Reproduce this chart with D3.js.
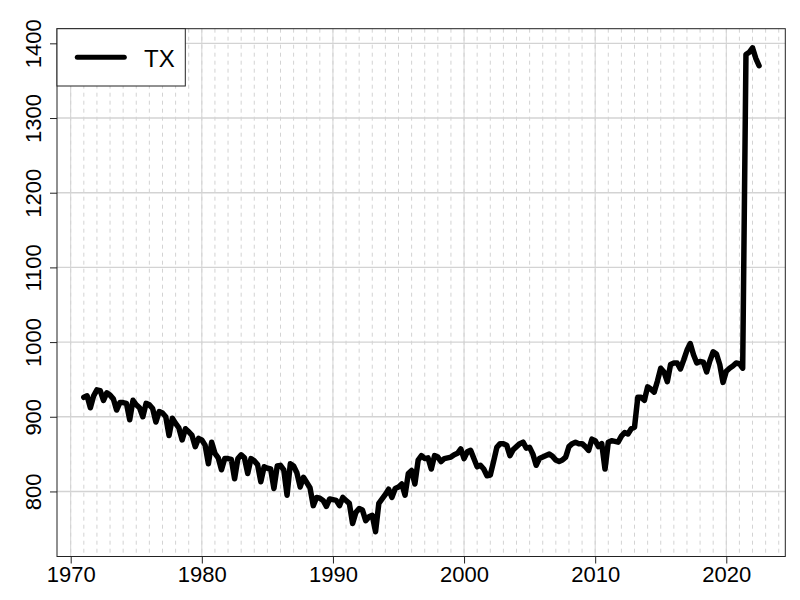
<!DOCTYPE html>
<html>
<head>
<meta charset="utf-8">
<script src="https://cdn.jsdelivr.net/npm/d3@7"></script>
<style>
  html, body { margin: 0; padding: 0; background: #fff; }
  svg { display: block; font-family: "Liberation Sans", Arial, Helvetica, sans-serif; }
</style>
</head>
<body>
<svg id="chart" width="800" height="600"></svg>
<script>
// ---- data (quarterly readings of the TX series) ----
const seriesName = "TX";
const years = d3.range(1971, 2023);
const txQ1 = [926,936,929,919,916,916,905,891,880,869,
              851,844,849,841,831,835,834,812,791,789,
              788,777,768,796,806,828,844,846,846,844,
              833,822,864,860,859,846,842,860,864,868,
              866,874,886,940,965,972,989,974,987,961,
              971,1394];
const txQ2 = [928,935,924,918,912,911,900,885,875,862,
              845,843,845,836,830,829,825,805,788,788,
              784,775,746,803,810,810,845,840,849,853,
              835,840,862,864,850,848,840,864,860,860,
              868,879,926,937,960,972,998,973,984,965,
              965,1380];
const txQ3 = [912,922,909,896,900,893,875,869,860,837,
              829,817,824,813,804,795,806,781,780,781,
              757,761,784,792,795,842,830,844,851,855,
              830,859,848,866,835,850,842,866,855,864,
              867,877,926,933,947,964,983,960,970,968,
              1385,1370];
const txQ4 = [928,932,919,922,918,907,898,884,871,866,
              844,844,844,833,834,837,819,792,790,792,
              772,766,790,804,824,848,848,845,857,844,
              821,864,856,858,844,847,846,864,870,830,
              866,884,922,948,970,976,972,975,946,972,
              1388,null];
const xTickLabels = [1970,1980,1990,2000,2010,2020];
const yTickLabels = [800,900,1000,1100,1200,1300,1400];
const gridYears = d3.range(1970, 2025);

// ---- build table ----
const quarters = [txQ1, txQ2, txQ3, txQ4];
const data = [];
years.forEach((yr, i) => {
  quarters.forEach((q, k) => {
    if (q[i] != null) data.push({t: yr + k * 0.25, v: q[i]});
  });
});

// ---- layout ----
const L = 57, R = 785.3, T = 28.7, B = 556.5;
const svg = d3.select("#chart");
const x = d3.scaleLinear().domain([1968.955, 2024.5]).range([L, R]);
const y = d3.scaleLinear().domain([712.9, 1419.6]).range([B, T]);

const grid = svg.append("g");
grid.selectAll("line.vy").data(gridYears).join("line")
  .attr("x1", d => x(d)).attr("x2", d => x(d))
  .attr("y1", T).attr("y2", B)
  .attr("stroke", "#d3d3d3").attr("stroke-width", 1)
  .attr("stroke-dasharray", "4,4");
grid.selectAll("line.vd").data(xTickLabels).join("line")
  .attr("x1", d => x(d)).attr("x2", d => x(d))
  .attr("y1", T).attr("y2", B)
  .attr("stroke", "#d3d3d3").attr("stroke-width", 1);
grid.selectAll("line.h").data(yTickLabels).join("line")
  .attr("x1", L).attr("x2", R)
  .attr("y1", d => y(d)).attr("y2", d => y(d))
  .attr("stroke", "#d3d3d3").attr("stroke-width", 1.4);

// ---- series line ----
const line = d3.line().x(d => x(d.t)).y(d => y(d.v));
svg.append("path").datum(data)
  .attr("d", line)
  .attr("fill", "none")
  .attr("stroke", "#000")
  .attr("stroke-width", 5.5)
  .attr("stroke-linejoin", "round")
  .attr("stroke-linecap", "round");

// ---- axes ----
const xAxis = svg.append("g").attr("transform", `translate(0,${B})`)
  .call(d3.axisBottom(x).tickValues(xTickLabels).tickSize(7).tickFormat(d3.format("d")));
xAxis.select(".domain").remove();
xAxis.selectAll("line").attr("stroke", "#222");
xAxis.selectAll("text")
  .attr("y", 25.5).attr("dy", 0)
  .attr("fill", "#000")
  .style("font-size", "22px")
  .style("font-family", "'Liberation Sans', Arial, sans-serif");

const yAxis = svg.append("g").attr("transform", `translate(${L},0)`)
  .call(d3.axisLeft(y).tickValues(yTickLabels).tickSize(7).tickFormat(d3.format("d")));
yAxis.select(".domain").remove();
yAxis.selectAll("line").attr("stroke", "#222");
yAxis.selectAll("text")
  .attr("transform", "rotate(-90)")
  .attr("x", 0).attr("y", -16.5).attr("dy", 0)
  .attr("text-anchor", "middle")
  .attr("fill", "#000")
  .style("font-size", "22px")
  .style("font-family", "'Liberation Sans', Arial, sans-serif");

// ---- frame ----
svg.append("rect")
  .attr("x", L).attr("y", T).attr("width", R - L).attr("height", B - T)
  .attr("fill", "none").attr("stroke", "#222").attr("stroke-width", 1);

// ---- legend ----
const lg = svg.append("g");
lg.append("rect")
  .attr("x", L).attr("y", T).attr("width", 128.3).attr("height", 57.3)
  .attr("fill", "#fff").attr("stroke", "#222").attr("stroke-width", 1);
lg.append("line")
  .attr("x1", 77.3).attr("x2", 124.3).attr("y1", 57.3).attr("y2", 57.3)
  .attr("stroke", "#000").attr("stroke-width", 5).attr("stroke-linecap", "round");
lg.append("text")
  .attr("x", 144).attr("y", 66.5)
  .style("font-size", "24px")
  .attr("fill", "#000")
  .text(seriesName);
</script>
</body>
</html>
